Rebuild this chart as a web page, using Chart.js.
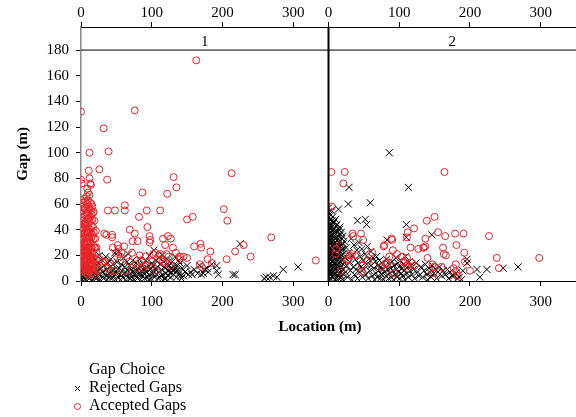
<!DOCTYPE html>
<html>
<head>
<meta charset="utf-8">
<script src="https://cdn.jsdelivr.net/npm/chart.js@4.4.0/dist/chart.umd.min.js"></script>
<style>
  html, body { margin: 0; padding: 0; background: #fff; }
</style>
</head>
<body>
<canvas id="gapChart" width="576" height="417"></canvas>
<script>
// tick labels
const xTicks = [0, 100, 200, 300];
const yTicks = [0, 20, 40, 60, 80, 100, 120, 140, 160, 180];
const panels = ["1", "2"];

// panel 1 - accepted gaps [location, gap]
const accepted1 = [
  [163,172],[0,132],[76,133],[32,119],[12,100],[39,101],[11,86],[26,87],[0,79],[12,80],[37,79],[13,76],
  [1,76],[87,69],[131,81],[135,73],[122,68],[213,84],[10,69],[9,72],[62,59],[62,55],[48,55],[38,55],
  [93,55],[112,55],[202,56],[207,47],[82,50],[150,48],[158,50],[94,42],[69,40],[76,37],[97,35],[98,32],
  [97,30],[33,37],[36,36],[44,36],[44,34],[73,31],[80,31],[123,35],[127,33],[116,33],[119,28],[130,26],
  [160,27],[169,29],[170,26],[183,23],[218,23],[230,28],[269,34],[240,19],[332,16],[206,17],[179,17],
  [185,14],[168,13],[171,11],[150,18],[140,19],[140,17],[134,22],[121,21],[124,19],[116,15],[119,14],
  [107,8],[102,21],[105,22],[112,21],[91,19],[93,12],[80,10],[83,20],[61,27],[57,22],[53,25],[50,22],
  [56,19],[55,16],[48,8],[41,14],[38,10],[34,15],[27,17],[24,10],[15,6],[10,5],[45,26],[22,26],[22,22],
  [18,38],[20,33],[25,8],[31,15],[42,8],[52,28],[64,8],[68,15],[72,22],[78,13],[85,16],[88,10],
  [100,15],[110,20],[113,17],[127,12],[145,19],
  [0,63],[1,58],[0,52],[1,47],[0,42],[0,38],[1,34],[0,30],[1,27],[0,24],[0,21],[1,18],[0,15],[0,12],[1,9],
  [2,61],[3,55],[2,49],[3,44],[2,40],[3,36],[2,32],[3,28],[2,25],[3,22],[2,19],[3,16],[2,13],[3,10],[2,7],
  [4,64],[5,57],[4,50],[5,45],[4,41],[5,37],[4,33],[5,29],[4,26],[5,23],[4,20],[5,17],[4,14],[5,11],[4,8],
  [6,62],[7,56],[6,51],[7,46],[6,43],[7,39],[6,35],[7,31],[6,27],[7,24],[6,21],[7,18],[6,15],[7,12],[6,9],[7,6],
  [8,66],[9,60],[8,53],[9,48],[8,42],[9,38],[8,34],[9,30],[8,26],[9,23],[8,20],[9,17],[8,14],[9,11],[8,8],[9,5],
  [10,63],[11,58],[10,54],[11,49],[10,45],[11,41],[10,37],[11,33],[10,29],[11,25],[10,22],[11,19],[10,16],[11,13],[10,10],[11,7],
  [12,67],[13,61],[12,56],[13,50],[12,46],[13,40],[12,35],[13,31],[12,27],[13,24],[12,20],[13,17],[12,14],[13,11],[12,8],
  [14,75],[15,60],[14,55],[15,52],[14,47],[15,43],[14,38],[15,34],[14,30],[15,26],[14,22],[15,18],[14,15],[15,12],[14,9],[15,6],
  [16,58],[17,53],[16,48],[17,42],[16,36],[17,28],[16,21],[17,16],[16,12],[17,7],
  [18,54],[19,47],[18,33],[19,26],[18,18],[19,13],[18,9],[19,5],
  [21,39],[20,26],[21,17],[20,11]
];

// panel 1 - rejected gaps
const rejected1 = [
  [0,2],[0,5],[0,8],[2,1],[2,4],[3,7],[4,2],[5,10],[6,4],[7,1],[8,7],[9,3],[10,12],[11,5],[12,2],[13,9],
  [14,4],[15,15],[16,1],[17,7],[18,18],[19,3],[20,11],[20,6],
  [22,2],[23,8],[24,14],[25,5],[26,20],[27,1],[28,10],[29,4],[30,16],[31,7],[32,2],[33,12],[34,5],[35,19],
  [36,9],[37,1],[38,14],[39,6],[40,3],[41,11],[42,17],[43,7],[44,2],[45,13],[46,4],[47,9],[48,22],[49,1],[50,6],
  [51,15],[52,3],[53,23],[54,10],[55,5],[56,1],[57,13],[58,8],[59,3],[60,18],[61,6],[62,11],[63,1],[64,4],
  [65,15],[66,8],[67,21],[68,2],[69,12],[70,6],[71,9],[72,3],[73,16],[74,7],[75,1],[76,11],[77,4],[78,14],
  [79,8],[80,2],[81,10],[82,5],[83,17],[84,1],[85,8],[86,12],[87,4],[88,13],[89,6],[90,2],[91,10],[92,16],
  [93,7],[94,3],[95,12],[96,5],[97,20],[98,9],[99,2],[100,14],
  [101,6],[102,12],[103,24],[104,3],[105,9],[106,16],[107,5],[108,11],[109,2],[110,18],[111,7],[112,13],
  [113,4],[114,9],[115,20],[116,5],[117,15],[118,2],[119,10],[120,6],[121,13],[122,17],[123,4],[124,8],
  [125,12],[126,6],[127,3],[128,10],[129,15],[130,8],[131,5],[132,11],[133,19],[134,7],[135,3],[136,12],
  [137,9],[138,16],[139,6],[140,14],[141,4],[143,10],[145,4],[147,7],[150,12],
  [152,5],[155,7],[157,5],[160,9],[165,6],[168,12],[170,5],[173,6],[175,9],[178,10],[180,7],[185,13],
  [192,12],[192,8],[194,5],[215,5],[218,5],[225,29],[259,2],[262,3],[267,3],[272,4],[277,3],[286,9],[307,11],
  [3,12],[6,8],[12,6],[21,3],[27,9],[36,4],[44,8],[52,9],[57,4],[63,7],[70,2],[76,5],[84,6],[90,8],
  [96,1],[104,7],[111,3],[120,2],[127,7],[133,9],[142,2]
];

// panel 2 - accepted gaps
const accepted2 = [
  [4,85],[23,85],[21,76],[164,85],[5,58],[139,47],[150,50],[155,38],[165,35],[179,37],[191,37],[227,35],
  [137,33],[121,41],[112,38],[111,34],[89,33],[79,28],[116,26],[127,25],[135,26],[137,27],[162,26],[163,21],
  [166,20],[181,28],[192,22],[193,15],[238,18],[241,10],[298,18],[34,37],[46,37],[49,32],[35,35],[16,28],
  [11,25],[10,21],[62,22],[56,16],[33,21],[40,20],[28,17],[47,12],[47,7],[18,8],[75,11],[81,14],[86,19],
  [91,24],[97,21],[93,6],[106,15],[111,12],[118,14],[122,12],[140,18],[147,13],[149,11],[148,6],[160,11],
  [177,10],[180,13],[183,4],[181,7],[200,8],[104,19],[111,18],[78,27],[90,32],[26,16],[30,20],[55,16],
  [83,13],[112,10],[134,26]
];

// panel 2 - rejected gaps
const rejected2 = [
  [0,57],[0,54],[1,50],[0,46],[1,43],[0,40],[1,37],[0,34],[1,31],[0,28],[1,25],[0,22],[1,19],[0,16],[1,13],[0,10],[1,7],[0,4],[1,1],
  [2,52],[3,48],[2,44],[3,41],[2,38],[3,35],[2,32],[3,29],[2,26],[3,23],[2,20],[3,17],[2,14],[3,11],[2,8],[3,5],[2,2],
  [4,55],[5,47],[4,42],[5,39],[4,36],[5,33],[4,30],[5,27],[4,24],[5,21],[4,18],[5,15],[4,12],[5,9],[4,6],[5,3],
  [6,50],[7,45],[6,40],[7,36],[6,31],[7,27],[6,23],[7,19],[6,15],[7,11],[6,7],[7,3],
  [8,46],[9,41],[8,37],[9,33],[8,29],[9,25],[8,21],[9,17],[8,13],[9,9],[8,5],[9,1],
  [10,48],[11,43],[10,39],[11,34],[10,30],[11,26],[10,22],[11,18],[10,14],[11,10],[10,6],[11,2],
  [12,44],[13,38],[12,32],[13,28],[12,24],[13,20],[12,16],[13,12],[12,8],[13,4],
  [14,56],[15,40],[14,35],[15,30],[14,26],[15,22],[14,18],[15,14],[14,10],[15,6],[14,2],
  [16,42],[17,36],[16,31],[17,27],[16,23],[17,19],[16,15],[17,11],[16,7],[17,3],
  [18,38],[19,33],[18,28],[19,24],[18,20],[19,16],[18,12],[19,8],[18,4],
  [20,35],[21,29],[20,25],[21,21],[20,17],[21,13],[20,9],[21,5],[20,1],
  [22,31],[23,18],[24,7],[25,26],[26,12],[27,3],[28,60],[28,22],[29,73],[30,15],[31,8],[32,33],[33,1],
  [34,20],[35,11],[36,28],[37,5],[38,17],[39,9],[40,24],[41,47],[41,2],[42,14],[43,30],[44,7],[45,19],
  [46,11],[47,25],[48,3],[49,16],[50,9],[52,48],[52,21],[53,5],[54,44],[54,13],[55,27],[56,2],[57,17],
  [58,8],[59,61],[60,23],[60,12],
  [62,4],[63,18],[64,10],[65,1],[66,15],[67,6],[68,19],[69,3],[70,12],[71,8],[72,16],[73,2],[74,11],
  [75,5],[76,14],[77,9],[78,1],[79,7],[80,12],[81,4],[82,17],[83,32],[84,9],[85,2],[86,100],[86,13],
  [87,6],[88,10],[89,3],[90,15],[91,8],[92,1],[93,12],[94,5],[95,18],[96,9],[97,3],[98,14],[99,7],
  [100,11],[101,2],[102,16],[103,6],[104,10],[105,4],[106,13],[107,8],[108,1],[109,19],[110,44],[110,34],
  [111,6],[112,11],[113,73],[113,3],[114,15],[115,8],[117,12],[118,5],[120,9],[122,2],[124,14],[126,7],[128,4],
  [131,11],[133,3],[135,8],[137,13],[139,5],[140,1],[142,10],[143,7],[146,36],[145,3],[147,12],[149,6],
  [151,9],[153,2],[155,7],[157,11],[160,4],[162,8],[165,5],[168,9],[170,2],[172,7],[175,4],[177,4],
  [180,6],[182,2],[185,3],[188,1],[190,8],[196,17],[196,14],[210,9],[214,3],[224,9],[247,10],[268,11]
];

const FONT = "'Liberation Serif', 'Times New Roman', serif";
const RED = "rgb(232, 35, 40)";
Chart.defaults.font.family = FONT;
Chart.defaults.color = "#000";

const toPoints = (arr) => arr.map(([x, y]) => ({ x: x, y: y }));

function xAxis(pos) {
  return {
    type: "linear",
    position: pos,
    stack: pos,
    stackWeight: 1,
    min: 0,
    max: 350,
    border: { display: true, color: "#000", width: 1 },
    grid: { display: true, drawOnChartArea: false, tickLength: 5, color: "#000" },
    ticks: { font: { size: 15 }, color: "#000", padding: pos === "top" ? 0 : 7, maxRotation: 0 },
    afterBuildTicks: (s) => { s.ticks = xTicks.map((v) => ({ value: v })); },
    afterFit: (s) => {
      s.height = pos === "top" ? 27 : 136;
      s.paddingLeft = 0;
      s.paddingRight = 0;
    },
  };
}

// strip headers, panel divider, x title and legend
const facetPlugin = {
  id: "facets",
  afterDraw(chart) {
    const { ctx, chartArea, scales } = chart;
    const yStrip = scales.y.getPixelForValue(180);
    ctx.save();
    ctx.strokeStyle = "#000";
    ctx.lineWidth = 1;
    ctx.beginPath();
    ctx.moveTo(chartArea.left, yStrip);
    ctx.lineTo(chartArea.right, yStrip);
    ctx.stroke();
    ctx.lineWidth = 2;
    ctx.beginPath();
    ctx.moveTo(scales.x2.left, chartArea.top);
    ctx.lineTo(scales.x2.left, chartArea.bottom);
    ctx.stroke();

    ctx.fillStyle = "#000";
    ctx.font = "15px " + FONT;
    ctx.textAlign = "center";
    ctx.textBaseline = "alphabetic";
    ctx.fillText(panels[0], (scales.x1.left + scales.x1.right) / 2, 46);
    ctx.fillText(panels[1], (scales.x2.left + scales.x2.right) / 2, 46);

    ctx.font = "bold 15px " + FONT;
    ctx.fillText("Location (m)", 320, 330.5);

    // legend
    ctx.textAlign = "left";
    ctx.font = "16px " + FONT;
    ctx.fillText("Gap Choice", 89, 374);
    ctx.fillText("Rejected Gaps", 89, 392);
    ctx.fillText("Accepted Gaps", 89, 409.5);
    ctx.lineWidth = 1;
    ctx.fillStyle = "rgba(0,0,0,0)";
    Chart.helpers.drawPoint(ctx, { pointStyle: "crossRot", radius: 3.5, borderWidth: 1 }, 77.5, 388.5);
    ctx.strokeStyle = RED;
    Chart.helpers.drawPoint(ctx, { pointStyle: "circle", radius: 3, borderWidth: 1 }, 77.5, 406.5);
    ctx.restore();
  },
};

const acceptedStyle = { pointStyle: "circle", pointRadius: 3.5, borderColor: RED, backgroundColor: "rgba(0,0,0,0)", borderWidth: 1, showLine: false };
const rejectedStyle = { pointStyle: "crossRot", pointRadius: 5, borderColor: "#000", backgroundColor: "#000", borderWidth: 1, showLine: false };

new Chart(document.getElementById("gapChart").getContext("2d"), {
  type: "scatter",
  data: {
    datasets: [
      { label: "Accepted Gaps", data: toPoints(accepted1), xAxisID: "x1", ...acceptedStyle },
      { label: "Accepted Gaps", data: toPoints(accepted2), xAxisID: "x2", ...acceptedStyle },
      { label: "Rejected Gaps", data: toPoints(rejected1), xAxisID: "x1", ...rejectedStyle },
      { label: "Rejected Gaps", data: toPoints(rejected2), xAxisID: "x2", ...rejectedStyle },
    ],
  },
  options: {
    responsive: false,
    animation: false,
    events: [],
    layout: { padding: 0, autoPadding: false },
    plugins: { legend: { display: false }, tooltip: { enabled: false } },
    scales: {
      x1: xAxis("bottom"),
      x2: xAxis("bottom"),
      t1: xAxis("top"),
      t2: xAxis("top"),
      y: {
        type: "linear",
        position: "left",
        min: 0,
        max: 198,
        border: { display: true, color: "#8a8a8a", width: 1.5 },
        grid: { display: true, drawOnChartArea: false, tickLength: 5, color: "#000" },
        ticks: { font: { size: 15 }, color: "#000", padding: 7 },
        afterBuildTicks: (s) => { s.ticks = yTicks.map((v) => ({ value: v })); },
        afterFit: (s) => { s.width = 81; },
        title: { display: true, text: "Gap (m)", font: { size: 15, weight: "bold" }, color: "#000", padding: { top: 14, bottom: 0 } },
      },
    },
  },
  plugins: [facetPlugin],
});
</script>
</body>
</html>
